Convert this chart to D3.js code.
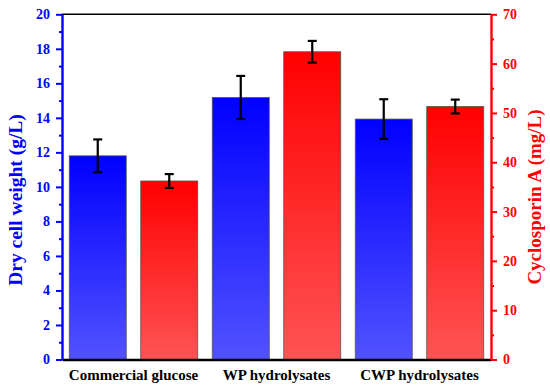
<!DOCTYPE html>
<html>
<head>
<meta charset="utf-8">
<script src="https://cdn.jsdelivr.net/npm/d3@7"></script>
<style>
  body { margin: 0; background: #fff; }
  text { font-family: "Liberation Serif", "Times New Roman", serif !important; font-weight: bold; }
</style>
</head>
<body>
<div id="chart"></div>
<script>
// Data
const categories = ["Commercial glucose", "WP hydrolysates", "CWP hydrolysates"];
const dryWeight = [11.8, 15.18, 13.93];      // g/L, left axis
const dryWeightErr = [0.95, 1.25, 1.15];
const cyclosporin = [36.2, 62.4, 51.3];      // mg/L, right axis
const cyclosporinErr = [1.4, 2.2, 1.4];

const W = 550, H = 387;
const margin = { top: 14.3, right: 59, bottom: 27.5, left: 62 },
      width = W - margin.left - margin.right,
      height = H - margin.top - margin.bottom;

const svg = d3.select("#chart")
    .append("svg")
    .attr("width", W)
    .attr("height", H);

const defs = svg.append("defs");
function gradient(id, top, bottom) {
    const g = defs.append("linearGradient")
        .attr("id", id)
        .attr("x1", 0).attr("y1", 0).attr("x2", 0).attr("y2", 1);
    g.append("stop").attr("offset", "0%").attr("stop-color", top);
    g.append("stop").attr("offset", "100%").attr("stop-color", bottom);
}
gradient("gBlue", "#0000ff", "#5252ff");
gradient("gRed", "#ff0000", "#ff5454");

const g = svg.append("g")
    .attr("transform", `translate(${margin.left},${margin.top})`);

// Scales
const x = d3.scaleBand().domain(categories).range([0, width]).padding(0);
const yL = d3.scaleLinear().domain([0, 20]).range([height, 0]);
const yR = d3.scaleLinear().domain([0, 70]).range([height, 0]);

const barW = 57, gap = 14.5;

// Bars
const series = [
    { vals: dryWeight, err: dryWeightErr, y: yL, fill: "url(#gBlue)", off: -gap / 2 - barW },
    { vals: cyclosporin, err: cyclosporinErr, y: yR, fill: "url(#gRed)", off: gap / 2 }
];

series.forEach(s => {
    const rows = categories.map((c, i) => ({ c, v: s.vals[i], e: s.err[i] }));
    g.selectAll(null)
        .data(rows)
        .enter().append("rect")
        .attr("x", d => x(d.c) + x.bandwidth() / 2 + s.off)
        .attr("y", d => s.y(d.v))
        .attr("width", barW)
        .attr("height", d => height - s.y(d.v))
        .attr("fill", s.fill)
        .attr("stroke", "#555")
        .attr("stroke-width", 0.8);

    // Error bars
    const eg = g.selectAll(null)
        .data(rows)
        .enter().append("g")
        .attr("transform", d => `translate(${x(d.c) + x.bandwidth() / 2 + s.off + barW / 2},0)`)
        .attr("stroke", "#000")
        .attr("stroke-width", 2.2);
    eg.append("line")
        .attr("y1", d => s.y(d.v + d.e))
        .attr("y2", d => s.y(d.v - d.e));
    eg.append("line")
        .attr("x1", -4.5).attr("x2", 4.5)
        .attr("y1", d => s.y(d.v + d.e)).attr("y2", d => s.y(d.v + d.e));
    eg.append("line")
        .attr("x1", -4.5).attr("x2", 4.5)
        .attr("y1", d => s.y(d.v - d.e)).attr("y2", d => s.y(d.v - d.e));
});

// Top frame line
g.append("line")
    .attr("x1", 0).attr("x2", width)
    .attr("y1", 0).attr("y2", 0)
    .attr("stroke", "#000").attr("stroke-width", 1.6);

// Bottom axis
const xAxis = g.append("g")
    .attr("transform", `translate(0,${height})`)
    .call(d3.axisBottom(x).tickSize(0).tickPadding(10));
xAxis.select(".domain").attr("stroke", "#000").attr("stroke-width", 2.4);
xAxis.selectAll("text").style("font-size", "15px").attr("fill", "#000");

// Left axis (blue) with minor ticks
const leftMinor = g.append("g")
    .call(d3.axisLeft(yL).tickValues(d3.range(1, 20, 2)).tickSize(3).tickFormat(""));
leftMinor.select(".domain").remove();
leftMinor.selectAll(".tick line").attr("stroke", "#0000ff").attr("stroke-width", 2);

const leftAxis = g.append("g")
    .call(d3.axisLeft(yL).tickValues(d3.range(0, 21, 2)).tickSize(6).tickSizeOuter(0).tickPadding(6));
leftAxis.select(".domain").attr("stroke", "#0000ff").attr("stroke-width", 2.4);
leftAxis.selectAll(".tick line").attr("stroke", "#0000ff").attr("stroke-width", 2);
leftAxis.selectAll("text").style("font-size", "14px").attr("fill", "#0000ff");

// Right axis (red)
const rightMinor = g.append("g")
    .attr("transform", `translate(${width},0)`)
    .call(d3.axisRight(yR).tickValues(d3.range(5, 70, 10)).tickSize(3).tickFormat(""));
rightMinor.select(".domain").remove();
rightMinor.selectAll(".tick line").attr("stroke", "#ff0000").attr("stroke-width", 2);

const rightAxis = g.append("g")
    .attr("transform", `translate(${width},0)`)
    .call(d3.axisRight(yR).tickValues(d3.range(0, 71, 10)).tickSize(6).tickSizeOuter(0).tickPadding(6));
rightAxis.select(".domain").attr("stroke", "#ff0000").attr("stroke-width", 2.4);
rightAxis.selectAll(".tick line").attr("stroke", "#ff0000").attr("stroke-width", 2);
rightAxis.selectAll("text").style("font-size", "14px").attr("fill", "#ff0000");

// Axis titles
svg.append("text")
    .attr("transform", `translate(22,200) rotate(-90)`)
    .attr("text-anchor", "middle")
    .style("font-size", "19.5px")
    .attr("fill", "#0000ff")
    .text("Dry cell weight (g/L)");

svg.append("text")
    .attr("transform", `translate(541,197) rotate(-90)`)
    .attr("text-anchor", "middle")
    .style("font-size", "19px")
    .attr("fill", "#ff0000")
    .text("Cyclosporin A (mg/L)");
</script>
</body>
</html>
